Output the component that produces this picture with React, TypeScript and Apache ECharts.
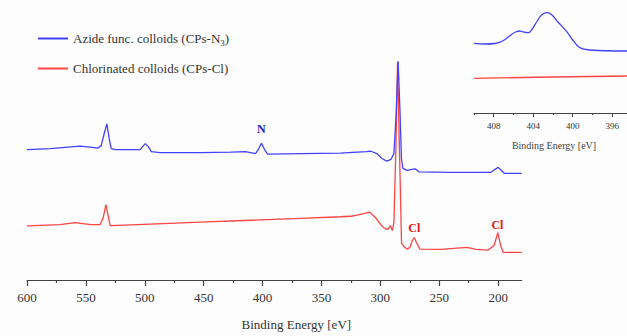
import React, { useEffect, useRef } from "react";
import * as echarts from "echarts";

// Survey spectrum (binding energy in eV, intensity in arbitrary units)
const azideEnergy = [600, 580, 555, 546, 540, 537, 534.5, 532.2, 530.2, 528.5, 525, 512, 504, 499.6, 497, 494.5, 487, 453, 427, 414.5, 406, 403.6, 401, 398.3, 395.7, 368, 334, 312, 308, 303, 298.7, 294.5, 291, 288.5, 286.8, 284.9, 283.4, 282.1, 280.9, 277.4, 273.2, 270.4, 267.2, 240, 214.5, 206, 202.6, 200, 197.4, 194.9, 180];
const azideIntensity = [132, 133, 135.5, 134.5, 133.5, 136, 148, 158, 143, 133, 132, 132, 132, 138, 135, 130, 129, 129, 129.5, 130, 128, 132, 138.5, 132, 127.5, 128, 128.5, 130, 130.3, 128, 123, 120.3, 122, 128, 163, 221.3, 173, 123, 113, 111, 112, 112.5, 109.5, 109, 109, 109, 112, 114, 111, 108, 108];

const chlorEnergy = [600, 572, 559, 546, 538, 535.3, 533, 531.1, 529.4, 495, 453, 410, 368, 334, 325, 315, 309, 304, 299.6, 296.2, 293.6, 291.5, 289.8, 288.5, 286.8, 285.4, 283.8, 282, 280, 277.4, 274.9, 273.2, 271.2, 269.4, 266.4, 248.5, 226.4, 218.7, 208.5, 203.4, 200.3, 197.9, 195.7, 180];
const chlorIntensity = [54.7, 56, 58, 56, 56, 63, 76.3, 65, 55, 56.5, 58.5, 60.5, 62.3, 64, 64.5, 67, 68.7, 63, 56, 52, 51.3, 55, 50, 58, 133, 221, 133, 37, 34, 31.3, 33, 39, 43, 38, 31.3, 31, 33, 31, 30.3, 35, 48, 35, 28, 28];

// N 1s inset
const insetEnergy = [410, 408.9, 407.9, 407.1, 406.4, 405.9, 405.4, 405, 404.5, 404.1, 403.6, 403.1, 402.6, 402.1, 401.5, 400.6, 400, 399.3, 398.3, 394.5];
const insetAzide = [69.7, 69, 69.5, 72, 77, 80.5, 82, 81, 80.3, 84, 92, 98.5, 100.3, 98, 91, 81.3, 73, 65.5, 63, 62];
const insetChlorEnergy = [410, 402, 394.5];
const insetChlor = [34.7, 36, 37];

const mainTicks = [600, 550, 500, 450, 400, 350, 300, 250, 200];
const mainMinorTicks = [575, 525, 475, 425, 375, 325, 275, 225];
const insetTicks = [408, 404, 400, 396];
const insetMinorTicks = [410, 406, 402, 398];

const azideName = "Azide func. colloids (CPs-N3)";
const chlorName = "Chlorinated colloids (CPs-Cl)";
const peakLabels = [
  { text: "N", e: 401, v: 153, series: "azide" },
  { text: "Cl", e: 271.2, v: 53, series: "chlor" },
  { text: "Cl", e: 200.6, v: 56, series: "chlor" },
];

const BLUE = "#4141ff";
const RED = "#ff4343";
const FONT = "Liberation Serif";

const zip = (a: number[], b: number[]) => a.map((x, i) => [x, b[i]]);

export default function App() {
  const ref = useRef<HTMLDivElement>(null);
  useEffect(() => {
    if (!ref.current) return;
    const chart = echarts.init(ref.current, undefined, { renderer: "svg" });
    const labelPoint = (p: { text: string; e: number; v: number }, color: string) => ({
      coord: [p.e, p.v],
      symbol: "circle",
      symbolSize: 1,
      itemStyle: { color: "rgba(0,0,0,0)" },
      label: {
        show: true,
        position: "inside",
        formatter: p.text,
        color,
        fontFamily: FONT,
        fontWeight: "bold",
        fontSize: 12,
      },
    });
    const legendText = {
      fontFamily: FONT,
      fontSize: 13,
      color: "#333",
      rich: { sub: { fontFamily: FONT, fontSize: 9, color: "#333", padding: [8, 0, 0, 0] } },
    };
    chart.setOption({
      animation: false,
      backgroundColor: "#fdfdfd",
      legend: [
        {
          data: [azideName],
          orient: "vertical",
          left: 33,
          top: 27,
          icon: "rect",
          itemWidth: 30,
          itemHeight: 2,
          textStyle: legendText,
          formatter: () => "Azide func. colloids (CPs-N{sub|3})",
        },
        {
          data: [chlorName],
          orient: "vertical",
          left: 33,
          top: 57,
          icon: "rect",
          itemWidth: 30,
          itemHeight: 2,
          textStyle: legendText,
        },
      ],
      grid: [
        { left: 27, right: 105.3, top: 33, bottom: 53 },
        { left: 474, right: 0, top: 0, bottom: 223 },
      ],
      xAxis: [
        {
          gridIndex: 0,
          type: "value",
          position: "bottom",
          inverse: true,
          min: 180,
          max: 600,
          name: "Binding Energy [eV]",
          nameLocation: "middle",
          nameGap: 38,
          nameTextStyle: { fontFamily: FONT, fontSize: 13, color: "#333", padding: [0, 0, 0, 44] },
          axisLine: { show: true, lineStyle: { color: "#444", width: 1.2 } },
          axisTick: { show: true, customValues: mainTicks, length: 6, lineStyle: { color: "#444", width: 1.2 } },
          axisLabel: { customValues: mainTicks, margin: 11, fontFamily: FONT, fontSize: 13, color: "#333" },
          splitLine: { show: false },
        },
        {
          gridIndex: 0,
          type: "value",
          position: "bottom",
          inverse: true,
          min: 180,
          max: 600,
          axisLine: { show: false },
          axisTick: { show: true, customValues: mainMinorTicks, length: 3, lineStyle: { color: "#444", width: 1.2 } },
          axisLabel: { show: false },
          splitLine: { show: false },
        },
        {
          gridIndex: 1,
          type: "value",
          position: "bottom",
          inverse: true,
          min: 394.5,
          max: 410,
          name: "Binding Energy [eV]",
          nameLocation: "middle",
          nameGap: 27,
          nameTextStyle: { fontFamily: FONT, fontSize: 10, color: "#444", padding: [0, 0, 0, 7] },
          axisLine: { show: true, lineStyle: { color: "#444", width: 1 } },
          axisTick: { show: true, customValues: insetTicks, length: 4, lineStyle: { color: "#444" } },
          axisLabel: { customValues: insetTicks, margin: 8, fontFamily: FONT, fontSize: 9, color: "#333" },
          splitLine: { show: false },
        },
        {
          gridIndex: 1,
          type: "value",
          position: "bottom",
          inverse: true,
          min: 394.5,
          max: 410,
          axisLine: { show: false },
          axisTick: { show: true, customValues: insetMinorTicks, length: 2, lineStyle: { color: "#444" } },
          axisLabel: { show: false },
          splitLine: { show: false },
        },
      ],
      yAxis: [
        { gridIndex: 0, type: "value", min: 0, max: 250, show: false },
        { gridIndex: 1, type: "value", min: 0, max: 113, show: false },
      ],
      series: [
        {
          name: chlorName,
          type: "line",
          xAxisIndex: 0,
          yAxisIndex: 0,
          data: zip(chlorEnergy, chlorIntensity),
          showSymbol: false,
          symbol: "none",
          lineStyle: { color: RED, width: 1.3 },
          itemStyle: { color: RED },
          markPoint: { data: peakLabels.filter((p) => p.series === "chlor").map((p) => labelPoint(p, "#e02020")) },
        },
        {
          name: azideName,
          type: "line",
          xAxisIndex: 0,
          yAxisIndex: 0,
          data: zip(azideEnergy, azideIntensity),
          showSymbol: false,
          symbol: "none",
          lineStyle: { color: BLUE, width: 1.3 },
          itemStyle: { color: BLUE },
          markPoint: { data: peakLabels.filter((p) => p.series === "azide").map((p) => labelPoint(p, "#2020d0")) },
        },
        {
          name: "inset-chlor",
          type: "line",
          xAxisIndex: 2,
          yAxisIndex: 1,
          data: zip(insetChlorEnergy, insetChlor),
          symbol: "none",
          lineStyle: { color: RED, width: 1.3 },
        },
        {
          name: "inset-azide",
          type: "line",
          xAxisIndex: 2,
          yAxisIndex: 1,
          smooth: 0.4,
          data: zip(insetEnergy, insetAzide),
          symbol: "none",
          lineStyle: { color: BLUE, width: 1.3 },
        },
      ],
    });
    return () => chart.dispose();
  }, []);
  return <div ref={ref} style={{ position: "fixed", left: 0, top: 0, width: 627, height: 336 }} />;
}
